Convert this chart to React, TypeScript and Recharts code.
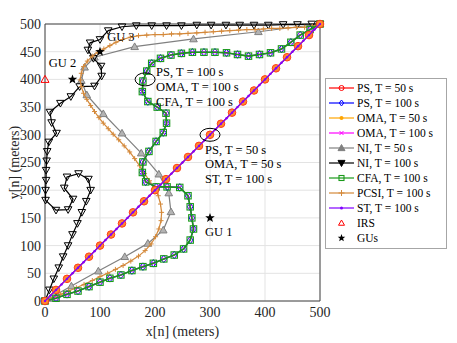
import {
  CartesianGrid,
  Legend,
  ReferenceArea,
  ReferenceDot,
  Scatter,
  ScatterChart,
  XAxis,
  YAxis,
} from "recharts";

type Pair = [number, number];

// trajectories (meters)
const ps50: Pair[] = [
  [0, 0], [20, 20], [40, 40], [60, 60], [80, 80], [100, 100], [120, 120], [140, 140], [160, 160],
  [180, 180], [200, 200], [220, 220], [240, 240], [260, 260], [280, 280], [300, 300], [320, 320],
  [340, 340], [360, 360], [380, 380], [400, 400], [420, 420], [440, 440], [460, 460], [480, 480], [500, 500],
];
const oma50: Pair[] = ps50;

const st100: Pair[] = [
  [0, 0], [10, 10], [20, 20], [30, 30], [40, 40], [50, 50], [60, 60], [70, 70], [80, 80], [90, 90],
  [100, 100], [110, 110], [120, 120], [130, 130], [140, 140], [150, 150], [160, 160], [170, 170],
  [180, 180], [190, 190], [200, 200], [210, 210], [220, 220], [230, 230], [240, 240], [250, 250],
  [260, 260], [270, 270], [280, 280], [290, 290], [300, 300], [310, 310], [320, 320], [330, 330],
  [340, 340], [350, 350], [360, 360], [370, 370], [380, 380], [390, 390], [400, 400], [410, 410],
  [420, 420], [430, 430], [440, 440], [450, 450], [460, 460], [470, 470], [480, 480], [490, 490], [500, 500],
];

const cfa100: Pair[] = [
  [0, 0], [20, 5], [40, 12], [60, 18], [80, 26], [100, 34], [118, 41], [138, 47], [158, 55],
  [178, 62], [197, 68], [216, 76], [235, 83], [252, 94], [264, 110], [270, 130], [267, 150],
  [264, 170], [260, 190], [245, 205], [222, 206], [202, 206], [183, 215], [177, 232], [178, 251],
  [189, 270], [202, 288], [215, 304], [221, 321], [220, 339], [204, 350], [187, 360], [177, 378],
  [178, 397], [185, 415], [194, 429], [210, 438], [229, 444], [248, 447], [268, 449], [289, 449],
  [309, 449], [330, 448], [350, 445], [370, 442], [390, 445], [410, 448], [430, 455], [447, 467],
  [464, 480], [482, 490], [500, 500],
];
const ps100: Pair[] = cfa100;
const oma100: Pair[] = cfa100;

const ni50: Pair[] = [
  [0, 0], [48, 27], [97, 54], [145, 80], [187, 104], [215, 128], [229, 161], [225, 195], [207, 229],
  [175, 267], [140, 303], [106, 338], [76, 372], [66, 398], [72, 422], [90, 440], [163, 459],
  [270, 473], [388, 486], [500, 500],
];

const ni100: Pair[] = [
  [0, 0], [8, 20], [16, 40], [25, 60], [33, 80], [42, 100], [50, 120], [59, 140], [67, 160],
  [75, 180], [83, 200], [79, 220], [61, 230], [40, 224], [35, 204], [51, 184], [42, 165], [20, 164],
  [1, 182], [1, 200], [2, 218], [2, 236], [3, 253], [4, 270], [7, 287], [21, 303], [12, 322],
  [9, 341], [28, 357], [47, 369], [63, 387], [90, 388], [103, 406], [102, 424], [88, 438], [78, 453],
  [82, 466], [100, 472], [115, 488], [140, 495], [166, 497], [194, 497], [221, 497], [248, 497],
  [276, 498], [302, 498], [329, 498], [354, 498], [380, 498], [406, 498], [433, 499], [459, 499],
  [485, 500], [500, 500],
];

const pcsi100: Pair[] = [
  [0, 0], [14, 6], [28, 12], [43, 18], [57, 24], [71, 30], [86, 37], [100, 44], [114, 50], [128, 57],
  [142, 64], [156, 72], [170, 81], [182, 91], [193, 103], [201, 116], [207, 130], [211, 145],
  [212, 160], [210, 175], [206, 190], [199, 204], [190, 217], [181, 230], [172, 244], [163, 257],
  [154, 269], [144, 280], [134, 291], [124, 301], [115, 311], [106, 321], [98, 331], [90, 342],
  [83, 353], [76, 364], [70, 375], [66, 387], [64, 399], [66, 411], [70, 423], [77, 433], [86, 442],
  [96, 449], [107, 455], [118, 461], [129, 467], [141, 472], [155, 476], [170, 479], [185, 480],
  [200, 481], [215, 481], [230, 482], [245, 482], [260, 483], [276, 484], [291, 485], [306, 486],
  [321, 487], [336, 488], [352, 489], [367, 490], [382, 490], [397, 491], [412, 492], [427, 492],
  [442, 493], [457, 494], [472, 494], [486, 496], [500, 500],
];

const irs: Pair[] = [[0, 400]];
const gus: Pair[] = [[300, 150], [50, 400], [100, 450]];

const xTicks = [0, 100, 200, 300, 400, 500];
const yTicks = [0, 50, 100, 150, 200, 250, 300, 350, 400, 450, 500];

const notes: { x: number; y: number; text: string }[] = [
  { x: 202, y: 414, text: "PS, T = 100 s" },
  { x: 202, y: 387, text: "OMA, T = 100 s" },
  { x: 202, y: 359, text: "CFA, T = 100 s" },
  { x: 291, y: 273, text: "PS, T = 50 s" },
  { x: 291, y: 247, text: "OMA, T = 50 s" },
  { x: 291, y: 221, text: "ST, T = 100 s" },
  { x: 291, y: 125, text: "GU 1" },
  { x: 7, y: 430, text: "GU 2" },
  { x: 113, y: 477, text: "GU 3" },
];
const rings: Pair[] = [[182, 400], [300, 300]];

const SERIF = "'Liberation Serif', 'DejaVu Serif', serif";

const pts = (a: Pair[]) => a.map(([x, y]) => ({ x, y }));

type Kind = "circle" | "dot" | "diamond" | "x" | "triUp" | "triDown" | "square" | "plus" | "star";

function Marker({ kind, cx, cy, color, s, fill }: { kind: Kind; cx: number; cy: number; color: string; s: number; fill?: string }) {
  const f = fill ?? "none";
  switch (kind) {
    case "circle":
      return <circle cx={cx} cy={cy} r={s} fill={f} stroke={color} strokeWidth={1} />;
    case "dot":
      return <circle cx={cx} cy={cy} r={s} fill={color} />;
    case "diamond":
      return (
        <polygon
          points={`${cx},${cy - s} ${cx + s * 0.75},${cy} ${cx},${cy + s} ${cx - s * 0.75},${cy}`}
          fill={f}
          stroke={color}
          strokeWidth={1}
        />
      );
    case "x":
      return (
        <path d={`M${cx - s},${cy - s}L${cx + s},${cy + s}M${cx - s},${cy + s}L${cx + s},${cy - s}`} stroke={color} strokeWidth={1} />
      );
    case "plus":
      return <path d={`M${cx - s},${cy}L${cx + s},${cy}M${cx},${cy - s}L${cx},${cy + s}`} stroke={color} strokeWidth={1} />;
    case "square":
      return <rect x={cx - s} y={cy - s} width={2 * s} height={2 * s} fill={f} stroke={color} strokeWidth={1.1} />;
    case "triUp":
      return (
        <polygon
          points={`${cx},${cy - s} ${cx + s},${cy + s * 0.75} ${cx - s},${cy + s * 0.75}`}
          fill={f}
          stroke={color}
          strokeWidth={1}
        />
      );
    case "triDown":
      return (
        <polygon
          points={`${cx},${cy + s} ${cx + s},${cy - s * 0.75} ${cx - s},${cy - s * 0.75}`}
          fill={f}
          stroke={color}
          strokeWidth={1}
        />
      );
    case "star": {
      const p: string[] = [];
      for (let i = 0; i < 10; i++) {
        const r = i % 2 === 0 ? s : s * 0.42;
        const a = -Math.PI / 2 + (i * Math.PI) / 5;
        p.push(`${cx + r * Math.cos(a)},${cy + r * Math.sin(a)}`);
      }
      return <polygon points={p.join(" ")} fill={color} />;
    }
  }
  return null;
}

const mk = (kind: Kind, color: string, s: number, fill?: string) => (props: any) =>
  <Marker kind={kind} cx={props.cx} cy={props.cy} color={color} s={s} fill={fill} />;

const legendItems: { name: string; color: string; kind: Kind; s: number; fill?: string; line?: boolean }[] = [
  { name: "PS, T = 50 s", color: "#ff0000", kind: "circle", s: 2.5, line: true },
  { name: "PS, T = 100 s", color: "#0000ff", kind: "diamond", s: 3, line: true },
  { name: "OMA, T = 50 s", color: "#ffa500", kind: "dot", s: 2, line: true },
  { name: "OMA, T = 100 s", color: "#ff00ff", kind: "x", s: 2, line: true },
  { name: "NI, T = 50 s", color: "#808080", kind: "triUp", s: 3.5, fill: "#808080", line: true },
  { name: "NI, T = 100 s", color: "#000000", kind: "triDown", s: 3.5, fill: "#000000", line: true },
  { name: "CFA, T = 100 s", color: "#1a9a1a", kind: "square", s: 2.5, line: true },
  { name: "PCSI, T = 100 s", color: "#d4893a", kind: "plus", s: 3, line: true },
  { name: "ST, T = 100 s", color: "#8000ff", kind: "dot", s: 1.5, line: true },
  { name: "IRS", color: "#ff0000", kind: "triUp", s: 3, line: false },
  { name: "GUs", color: "#000000", kind: "star", s: 4, line: false },
];

function LegendBox() {
  return (
    <div
      style={{
        border: "1px solid #a6a6a6",
        background: "#fff",
        width: 120,
        height: 168,
        paddingTop: 1,
        boxSizing: "content-box",
        fontFamily: SERIF,
        fontSize: 11.5,
        color: "#000",
      }}
    >
      {legendItems.map((it) => (
        <div key={it.name} style={{ display: "flex", alignItems: "center", height: 15.1 }}>
          <svg width={30} height={12} style={{ marginLeft: 1, flex: "none" }}>
            {it.line && <line x1={2} y1={6} x2={27} y2={6} stroke={it.color} strokeWidth={1.2} />}
            <Marker kind={it.kind} cx={14.5} cy={6} color={it.color} s={it.s} fill={it.fill} />
          </svg>
          <span style={{ whiteSpace: "nowrap" }}>{it.name}</span>
        </div>
      ))}
    </div>
  );
}

export default function App() {
  const lw = 1.2;
  return (
    <div style={{ position: "absolute", left: 0, top: 0, background: "#fff", fontFamily: SERIF }}>
      <style>{`.recharts-cartesian-axis-tick-value, .recharts-text { font-family: ${SERIF}; }`}</style>
      <ScatterChart width={457} height={343} margin={{ top: 24, right: 137, bottom: 6, left: 0 }}>
        <CartesianGrid stroke="#e3e3e3" />
        <XAxis
          type="number"
          dataKey="x"
          domain={[0, 500]}
          ticks={xTicks}
          height={36}
          axisLine={false}
          tickLine={false}
          tickSize={4}
          tickMargin={2}
          tick={{ fontFamily: SERIF, fontSize: 14, fill: "#262626" }}
          label={{
            content: (p: any) => {
              const vb = p.viewBox || {};
              return (
                <text x={vb.x + vb.width / 2} y={331} textAnchor="middle" dominantBaseline="central" fontFamily={SERIF} fontSize={14} fill="#262626">
                  x[n] (meters)
                </text>
              );
            },
          }}
        />
        <YAxis
          type="number"
          dataKey="y"
          domain={[0, 500]}
          ticks={yTicks}
          width={45}
          axisLine={false}
          tickLine={false}
          tickSize={4}
          tickMargin={0}
          tick={{ fontFamily: SERIF, fontSize: 14, fill: "#262626" }}
          label={{
            content: (p: any) => {
              const vb = p.viewBox || {};
              const cy = vb.y + vb.height / 2;
              return (
                <text
                  x={14}
                  y={cy}
                  transform={`rotate(-90 14 ${cy})`}
                  textAnchor="middle"
                  dominantBaseline="central"
                  fontFamily={SERIF}
                  fontSize={14}
                  fill="#262626"
                >
                  y[n] (meters)
                </text>
              );
            },
          }}
        />
        <ReferenceArea x1={0} x2={500} y1={0} y2={500} fill="none" stroke="#444" strokeWidth={1} />

        <Scatter data={pts(ni50)} isAnimationActive={false} line={{ stroke: "#808080", strokeWidth: lw }} lineJointType="linear" shape={mk("triUp", "#808080", 3.8, "#b3b3b3")} />
        <Scatter data={pts(ni100)} isAnimationActive={false} line={{ stroke: "#000", strokeWidth: lw }} lineJointType="linear" shape={mk("triDown", "#000", 3.8, "none")} />
        <Scatter data={pts(pcsi100)} isAnimationActive={false} line={{ stroke: "#d4893a", strokeWidth: lw }} lineJointType="linear" shape={mk("plus", "#d4893a", 2.5)} />
        <Scatter data={pts(ps100)} isAnimationActive={false} line={{ stroke: "#0000ff", strokeWidth: lw }} lineJointType="linear" shape={mk("diamond", "#0000ff", 3.8)} />
        <Scatter data={pts(oma100)} isAnimationActive={false} line={{ stroke: "#ff00ff", strokeWidth: lw }} lineJointType="linear" shape={mk("x", "#ff00ff", 1.8)} />
        <Scatter data={pts(cfa100)} isAnimationActive={false} line={{ stroke: "#1a9a1a", strokeWidth: 1.6 }} lineJointType="linear" shape={mk("square", "#1a9a1a", 3.2)} />
        <Scatter data={pts(ps50)} isAnimationActive={false} line={{ stroke: "#ff0000", strokeWidth: lw }} lineJointType="linear" shape={mk("circle", "#ff3b1a", 3.8, "#ff8c2a")} />
        <Scatter data={pts(oma50)} isAnimationActive={false} line={{ stroke: "#ffa500", strokeWidth: lw }} lineJointType="linear" shape={mk("dot", "#ff8c2a", 2.2)} />
        <Scatter data={pts(st100)} isAnimationActive={false} line={{ stroke: "#8000ff", strokeWidth: 1.4 }} lineJointType="linear" shape={mk("dot", "#8000ff", 1.2)} />
        <Scatter data={pts(irs)} isAnimationActive={false} shape={mk("triUp", "#ff0000", 4)} />
        <Scatter data={pts(gus)} isAnimationActive={false} shape={mk("star", "#000", 5)} />

        {rings.map(([x, y]) => (
          <ReferenceDot
            key={`r${x}`}
            x={x}
            y={y}
            r={1}
            shape={(p: any) => <ellipse cx={p.cx} cy={p.cy} rx={10} ry={6.5} fill="none" stroke="#000" strokeWidth={1} />}
          />
        ))}
        {notes.map((n) => (
          <ReferenceDot
            key={n.text}
            x={n.x}
            y={n.y}
            r={1}
            shape={(p: any) => (
              <text x={p.cx} y={p.cy} dominantBaseline="central" fontFamily={SERIF} fontSize={12.5} fill="#000">
                {n.text}
              </text>
            )}
          />
        ))}

        <Legend
          layout="vertical"
          align="center"
          verticalAlign="middle"
          wrapperStyle={{ left: 325, top: 78, width: 122, height: 170 }}
          content={() => <LegendBox />}
        />
      </ScatterChart>
    </div>
  );
}
